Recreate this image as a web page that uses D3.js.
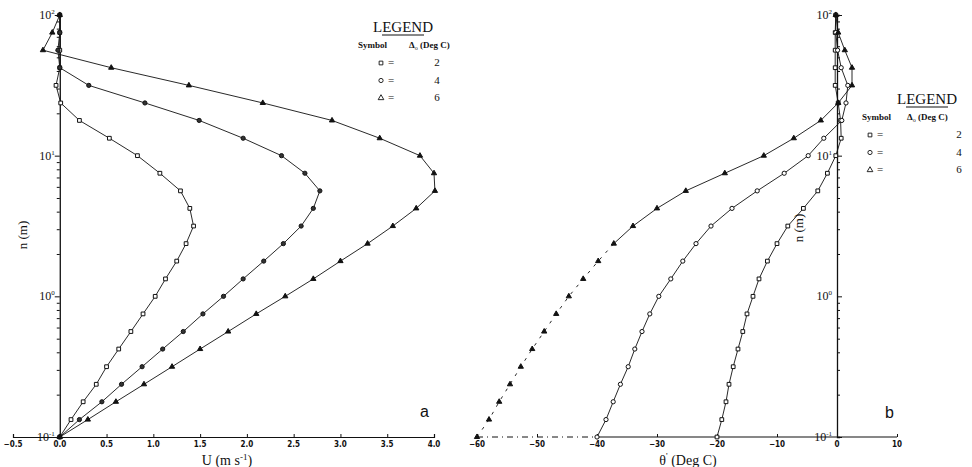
<!DOCTYPE html>
<html>
<head>
<meta charset="utf-8">
<script src="https://cdn.jsdelivr.net/npm/d3@7"></script>
<style>
  html, body { margin: 0; padding: 0; background: #fff; }
  svg { display: block; }
</style>
</head>
<body>
<svg id="chart" width="972" height="467"></svg>
<script>
// ─── Profiles of U and theta' vs height, three Delta_0 cases ──────────

// heights (m), 8 levels per decade
const LEVELS = [0.1, 0.133, 0.178, 0.237, 0.316, 0.422, 0.562, 0.75,
                1.0, 1.33, 1.78, 2.37, 3.16, 4.22, 5.62, 7.5,
                10, 13.3, 17.8, 23.7, 31.6, 42.2, 56.2, 75, 100];

// panel a: U (m s-1)
const U_SQ = [0, 0.12, 0.25, 0.39, 0.50, 0.63, 0.76, 0.89, 1.02, 1.13, 1.25, 1.35, 1.43,
              1.39, 1.29, 1.07, 0.83, 0.53, 0.21, 0.01, -0.04, 0, 0, 0, 0];
const U_CI = [0, 0.21, 0.45, 0.66, 0.88, 1.10, 1.32, 1.53, 1.75, 1.96, 2.18, 2.39, 2.58,
              2.71, 2.78, 2.62, 2.37, 1.96, 1.49, 0.91, 0.31, 0.0, -0.02, 0, 0];
const U_TR = [0, 0.30, 0.60, 0.90, 1.20, 1.50, 1.80, 2.10, 2.41, 2.71, 3.00, 3.29, 3.56,
              3.81, 4.01, 4.00, 3.85, 3.42, 2.91, 2.17, 1.38, 0.55, -0.18, -0.08, 0];

// panel b: theta' (Deg C)
const TH_SQ = [-20, -19.2, -18.5, -18, -17.3, -16.5, -15.7, -15.0, -14.0, -13.0, -11.6, -10.0, -8.2,
               -5.6, -3.2, -1.6, -0.2, 0.7, 0.6, 0.2, -0.3, -0.3, -0.3, -0.3, -0.2];
const TH_CI = [-40, -38.5, -37.3, -36.1, -34.8, -33.7, -32.5, -31.2, -29.7, -27.7, -25.7, -23.5, -21.0,
               -17.5, -13.3, -8.8, -4.8, -2.2, 0.8, 1.5, 1.8, 0.7, 0.1, -0.2, -0.2];
const TH_TR = [-60, -58, -56.3, -54.5, -52.7, -50.8, -48.8, -46.8, -44.7, -42.3, -39.8, -37.2, -34.0,
               -30.0, -25.2, -18.7, -12.2, -7.2, -2.7, 0.2, 2.5, 2.5, 1.3, 0.2, -0.2];

const U_TICKS = [-0.5, 0, 0.5, 1.0, 1.5, 2.0, 2.5, 3.0, 3.5, 4.0];
const TH_TICKS = [-60, -50, -40, -30, -20, -10, 0, 10];
const DECADES = [0.1, 1, 10, 100];
const DECADE_EXP = ["-1", "0", "1", "2"];
const DELTAS = ["2", "4", "6"];

const svg = d3.select("#chart");
const INK = "#111";
const TICK_FONT = "'DejaVu Sans Condensed', 'Liberation Sans Narrow', 'Liberation Sans', sans-serif";
const SERIF = "'Liberation Serif', 'DejaVu Serif', serif";

const y = d3.scaleLog().domain([0.1, 100]).range([437, 15]);

// minor tick values 1..9 per decade
const minorTicks = [];
[0.1, 1, 10].forEach(d => { for (let m = 1; m < 10; m++) minorTicks.push(d * m); });
minorTicks.push(100);

const SYMBOLS = [d3.symbolSquare, d3.symbolCircle, d3.symbolTriangle];

function drawPanel(cfg) {
  const g = svg.append("g");
  const x = d3.scaleLinear().domain(cfg.domain).range(cfg.range);
  const x0 = x(0);

  // y axis (log) at zero
  const yAxis = (cfg.tickSide === "left" ? d3.axisLeft(y) : d3.axisRight(y))
    .tickValues(minorTicks)
    .tickSize(3)
    .tickFormat("");
  const ya = g.append("g").attr("transform", `translate(${x0},0)`).call(yAxis);
  ya.select(".domain").attr("stroke", INK).attr("stroke-width", 1.3);
  ya.selectAll(".tick line").attr("stroke", INK).attr("stroke-width", 1)
    .attr("x2", d => (DECADES.includes(d) ? 5 : 3) * (cfg.tickSide === "left" ? -1 : 1));

  // decade labels 10^n
  DECADES.forEach((d, i) => {
    const t = g.append("text")
      .attr("x", x0 - 5).attr("y", y(d) + 4)
      .attr("text-anchor", "end")
      .attr("font-family", SERIF).attr("font-size", 12).attr("fill", INK);
    t.append("tspan").text("10");
    t.append("tspan").attr("dy", -5).attr("font-size", 7).text(DECADE_EXP[i]);
  });

  // x axis
  const xAxis = d3.axisTop(x).tickValues(cfg.ticks).tickSize(3).tickFormat("");
  const xa = g.append("g").attr("transform", `translate(0,${y(0.1)})`).call(xAxis);
  xa.select(".domain").attr("stroke", INK).attr("stroke-width", 1.2);
  if (cfg.dashFrom != null) {
    xa.select(".domain").attr("stroke", "none");
    g.append("line")
      .attr("x1", x(cfg.domain[0])).attr("x2", x(cfg.dashFrom))
      .attr("y1", y(0.1)).attr("y2", y(0.1))
      .attr("stroke", INK).attr("stroke-width", 1).attr("stroke-dasharray", "6,4,1,4");
    g.append("line")
      .attr("x1", x(cfg.dashFrom)).attr("x2", x(cfg.domain[1]))
      .attr("y1", y(0.1)).attr("y2", y(0.1))
      .attr("stroke", INK).attr("stroke-width", 1.2);
  }
  xa.selectAll(".tick line").attr("stroke", INK);
  g.selectAll(".xlab").data(cfg.ticks).join("text")
    .attr("class", "xlab")
    .attr("x", d => x(d)).attr("y", 447)
    .attr("text-anchor", "middle")
    .attr("font-family", TICK_FONT).attr("font-weight", "bold")
    .attr("font-size", 8).attr("fill", INK)
    .text(cfg.tickFmt);

  // curves
  const line = d3.line().x(d => x(d[0])).y(d => y(d[1]));
  cfg.series.forEach((vals, si) => {
    const pts = vals.map((v, i) => [v, LEVELS[i]]);
    if (cfg.dashBelow != null && si === 2) {
      g.append("path").datum(pts.slice(0, cfg.dashBelow + 1))
        .attr("d", line).attr("fill", "none")
        .attr("stroke", INK).attr("stroke-width", 0.9).attr("stroke-dasharray", "3,6");
      g.append("path").datum(pts.slice(cfg.dashBelow))
        .attr("d", line).attr("fill", "none")
        .attr("stroke", INK).attr("stroke-width", 0.9);
    } else {
      g.append("path").datum(pts)
        .attr("d", line).attr("fill", "none")
        .attr("stroke", INK).attr("stroke-width", 0.9);
    }
    g.append("g").selectAll("path").data(pts).join("path")
      .attr("transform", d => `translate(${x(d[0])},${y(d[1])})`)
      .attr("d", d3.symbol().type(SYMBOLS[si]).size(si === 2 ? 12 : 14))
      .attr("fill", cfg.fills[si])
      .attr("stroke", INK).attr("stroke-width", 1);
  });

  // axis title
  const tt = g.append("text")
    .attr("x", cfg.titleX).attr("y", 465)
    .attr("text-anchor", "middle")
    .attr("font-family", SERIF).attr("font-size", 14).attr("fill", INK);
  cfg.title(tt);

  // y title
  g.append("text")
    .attr("transform", `translate(${cfg.yTitle[0]},${cfg.yTitle[1]}) rotate(-90)`)
    .attr("text-anchor", "middle")
    .attr("font-family", SERIF).attr("font-size", 13).attr("fill", INK)
    .text("n (m)");

  // panel letter
  g.append("text")
    .attr("x", cfg.letter[0]).attr("y", cfg.letter[1])
    .attr("font-family", "'Liberation Sans', sans-serif").attr("font-size", 16).attr("fill", INK)
    .text(cfg.letterText);

  // legend
  const L = cfg.legend;
  const lg = g.append("g").attr("font-family", SERIF).attr("fill", INK);
  lg.append("text").attr("x", L.cx).attr("y", L.top)
    .attr("text-anchor", "middle").attr("font-size", 15).text("LEGEND");
  lg.append("line").attr("x1", L.cx - 21).attr("x2", L.cx + 21)
    .attr("y1", L.top + 3).attr("y2", L.top + 3).attr("stroke", INK).attr("stroke-width", 1);
  lg.append("text").attr("x", L.symX).attr("y", L.top + 16)
    .attr("font-size", 9).attr("font-weight", "bold").text("Symbol");
  const dh = lg.append("text").attr("x", L.delX).attr("y", L.top + 16).attr("font-size", 9);
  dh.append("tspan").attr("font-weight", "bold").text("Δ");
  dh.append("tspan").attr("dy", 2).attr("font-size", 6).text("o");
  dh.append("tspan").attr("dy", -2).attr("font-weight", "bold").text(" (Deg C)");
  DELTAS.forEach((dv, i) => {
    const ry = L.top + 34 + i * L.rowGap;
    lg.append("path")
      .attr("transform", `translate(${L.markX},${ry - 3})`)
      .attr("d", d3.symbol().type(SYMBOLS[i]).size(14))
      .attr("fill", "#fff").attr("stroke", INK).attr("stroke-width", 0.9);
    lg.append("text").attr("x", L.markX + 7).attr("y", ry).attr("font-size", 11).text("=");
    lg.append("text").attr("x", L.numX).attr("y", ry)
      .attr("text-anchor", "middle").attr("font-size", 11).text(dv);
  });
}

drawPanel({
  domain: [-0.5, 4.0], range: [13, 434],
  ticks: U_TICKS, tickFmt: d => d3.format(".1f")(d),
  tickSide: "left",
  series: [U_SQ, U_CI, U_TR],
  fills: ["#fff", "#333", INK],
  titleX: 227,
  title: t => {
    t.append("tspan").text("U  (m  s");
    t.append("tspan").attr("dy", -5).attr("font-size", 9).text("-1");
    t.append("tspan").attr("dy", 5).text(")");
  },
  yTitle: [27, 235],
  letter: [420, 417], letterText: "a",
  legend: { cx: 403, top: 32, symX: 358, delX: 409, markX: 381, numX: 437, rowGap: 17.5 }
});

drawPanel({
  domain: [-60, 10], range: [477, 897],
  ticks: TH_TICKS, tickFmt: d => d3.format(".0f")(d),
  tickSide: "right",
  series: [TH_SQ, TH_CI, TH_TR],
  fills: ["#fff", "#fff", INK],
  dashFrom: -40, dashBelow: 11,
  titleX: 688,
  title: t => {
    t.append("tspan").text("θ");
    t.append("tspan").attr("dy", -6).attr("font-size", 9).text("'");
    t.append("tspan").attr("dy", 6).text(" (Deg  C)");
  },
  yTitle: [803, 228],
  letter: [885, 418], letterText: "b",
  legend: { cx: 927, top: 104, symX: 862, delX: 907, markX: 870, numX: 959, rowGap: 17.5 }
});
</script>
</body>
</html>
